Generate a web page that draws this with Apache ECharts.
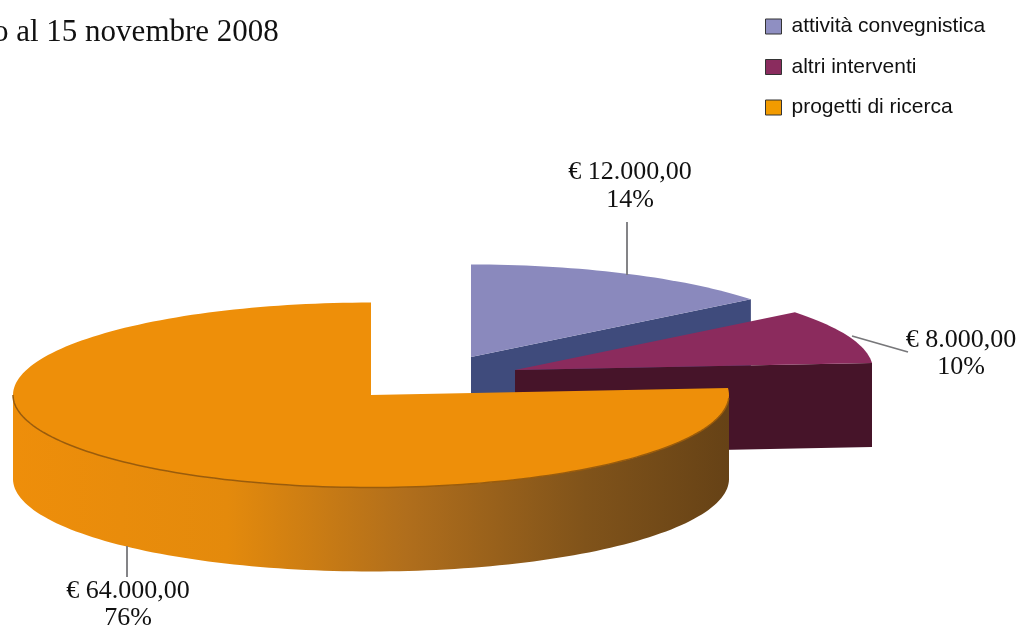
<!DOCTYPE html>
<html>
<head>
<meta charset="utf-8">
<style>html,body{margin:0;padding:0;background:#fff}#c{width:1019px;height:628px}</style>
<script src="https://cdn.jsdelivr.net/npm/echarts@6/dist/echarts.min.js"></script>
</head>
<body>
<div id="c"></div>
<script>
var categories = ['attività convegnistica', 'altri interventi', 'progetti di ricerca'];
var values = [12000, 8000, 64000];
var amountLabels = ['€ 12.000,00', '€ 8.000,00', '€ 64.000,00'];
var percentLabels = ['14%', '10%', '76%'];
var heading = 'o al 15 novembre 2008';

var topColors = ['#8a89bd', '#8b2b5d', '#ee8f09'];
var faceColors = ['#3f4b7c', '#461429', 'rgba(0,0,0,0)'];
var legendColors = ['#8f8fc2', '#8a2c5e', '#f29b00'];
var centers = [[471, 357], [515, 370], [371, 395]];
var leaders = [[[627, 222], [627, 275]], [[852, 336], [908, 352]], [[127, 546], [127, 577]]];
var labelPos = [[630, 172, 200], [961, 340, 367], [128, 591, 618]];
var RX = 358, RY = 92.5, DEPTH = 84;
var SERIF = '"Liberation Serif", serif';
var total = values.reduce(function (a, b) { return a + b; }, 0);

function pt(c, deg, dy) {
  var r = deg * Math.PI / 180;
  return [c[0] + RX * Math.cos(r), c[1] - RY * Math.sin(r) + (dy || 0)];
}
function arc(c, from, to, dy) {
  var out = [], n = Math.max(2, Math.ceil(Math.abs(to - from) / 1.5));
  for (var i = 0; i <= n; i++) out.push(pt(c, from + (to - from) * i / n, dy));
  return out;
}
function renderSlice(i) {
  return function (params, api) {
    var v = api.value(0), before = 0;
    for (var k = 0; k < i; k++) before += values[k];
    // slices run clockwise from 12 o'clock
    var a0 = 90 - before / total * 360, a1 = a0 - v / total * 360;
    var c = centers[i], kids = [];
    // outer wall: only the part on the front half is visible
    if (a1 < 0) {
      var start = Math.min(a0, 0), stop = Math.max(a1, -180);
      var upper = arc(c, start, stop, 0), lower = arc(c, stop, start, DEPTH);
      kids.push({ type: 'polygon', shape: { points: upper.concat(lower) },
        style: { fill: { type: 'linear', x: 0, y: 0, x2: 1, y2: 0, colorStops: [
          { offset: 0, color: '#ee8e0a' }, { offset: 0.3, color: '#e48a0c' },
          { offset: 0.55, color: '#b06e1c' }, { offset: 0.8, color: '#80531a' },
          { offset: 1, color: '#664216' }] } } });
    }
    // cut face at the clockwise end
    var e = pt(c, a1);
    kids.push({ type: 'polygon', shape: { points: [c, e, [e[0], e[1] + DEPTH], [c[0], c[1] + DEPTH]] },
      style: { fill: faceColors[i] } });
    // top face
    kids.push({ type: 'polygon', shape: { points: [c].concat(arc(c, a0, a1, 0)) },
      style: { fill: topColors[i] } });
    if (a1 < 0) {
      kids.push({ type: 'polyline', shape: { points: arc(c, -2, -180, 0) },
        style: { stroke: '#9a5c0c', lineWidth: 1.5, fill: null } });
    }
    // leader and labels
    kids.push({ type: 'line', shape: { x1: leaders[i][0][0], y1: leaders[i][0][1], x2: leaders[i][1][0], y2: leaders[i][1][1] },
      style: { stroke: '#77777a', lineWidth: 1.8 } });
    var lp = labelPos[i];
    kids.push({ type: 'text', style: { x: lp[0], y: lp[1], text: amountLabels[i], fill: '#111', fontFamily: SERIF, fontSize: 26, align: 'center', verticalAlign: 'middle' } });
    kids.push({ type: 'text', style: { x: lp[0], y: lp[2], text: percentLabels[i], fill: '#111', fontFamily: SERIF, fontSize: 26, align: 'center', verticalAlign: 'middle' } });
    return { type: 'group', children: kids };
  };
}

var chart = echarts.init(document.getElementById('c'));
chart.setOption({
  animation: false,
  backgroundColor: '#fff',
  title: { text: heading, left: -12, top: 12, textStyle: { fontFamily: SERIF, fontSize: 31, fontWeight: 'normal', color: '#111' } },
  legend: {
    orient: 'vertical', left: 765, top: 16, padding: 0, itemWidth: 16, itemHeight: 15, itemGap: 19.5,
    selectedMode: false, icon: 'rect',
    textStyle: { fontFamily: '"Liberation Sans", Arial, sans-serif', fontSize: 21, color: '#111', padding: [0, 0, 0, 5] },
    data: categories.map(function (n, i) {
      return { name: n, itemStyle: { color: legendColors[i], borderColor: '#333', borderWidth: 1 } };
    })
  },
  series: categories.map(function (n, i) {
    return { type: 'custom', name: n, coordinateSystem: 'none', silent: true, z: 2 + i,
      itemStyle: { color: topColors[i] }, renderItem: renderSlice(i), data: [[values[i]]] };
  })
});
</script>
</body>
</html>
